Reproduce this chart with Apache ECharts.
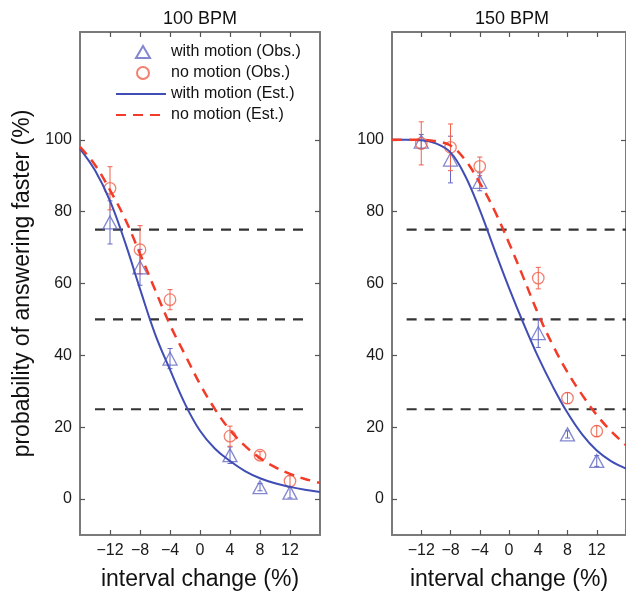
<!DOCTYPE html>
<html>
<head>
<meta charset="utf-8">
<script src="https://cdn.jsdelivr.net/npm/echarts@6/dist/echarts.min.js"></script>
<style>html,body{margin:0;padding:0;background:#fff}#c{width:626px;height:596px}</style>
</head>
<body>
<div id="c"></div>
<script>
// ---------- data ----------
const panelTitles = ['100 BPM', '150 BPM'];
const xTicks = [-12, -8, -4, 0, 4, 8, 12];
const yTicks = [0, 20, 40, 60, 80, 100];
const obsX = [-12, -8, -4, 4, 8, 12];

const bpm100MotionObs = [77, 64.5, 39.1, 12.2, 3.3, 1.8];
const bpm100MotionErr = [6, 5, 2.8, 2.3, 1, 1.5];
const bpm100NoMotionObs = [86.5, 69.4, 55.5, 17.5, 12.2, 5];
const bpm100NoMotionErr = [6, 6.7, 2.8, 2.8, 1, 1.5];

const bpm150MotionObs = [99.5, 94.5, 88.3, 46.2, 18, 10.6];
const bpm150MotionErr = [2, 6.5, 2.5, 4, 1, 1.5];
const bpm150NoMotionObs = [99, 97.9, 92.6, 61.5, 28.1, 18.9];
const bpm150NoMotionErr = [6, 6.5, 2.6, 3, 1.5, 1.5];

const curveX = [-16, -14, -12, -10, -8, -6, -4, -2, 0, 2, 4, 6, 8, 10, 12, 14, 16];
const bpm100MotionEst = [97.5, 91.5, 83, 71.5, 58.5, 46, 36, 26.5, 19, 14, 10.6, 7.8, 5.8, 4.4, 3.4, 2.6, 2];
const bpm100NoMotionEst = [98, 93, 86, 78, 68.3, 58.3, 48.5, 40.2, 32, 25, 19.2, 14.8, 11.4, 8.9, 7, 5.6, 4.5];
const bpm150MotionEst = [100, 100, 99.9, 99, 96.5, 90, 80.5, 69.5, 58.8, 48.8, 39.5, 31.3, 24, 18, 13.5, 10.5, 8.5];
const bpm150NoMotionEst = [100, 100, 100, 99.6, 98.4, 94.4, 88, 80.4, 71.3, 61.5, 51.5, 42.8, 35.3, 29, 23.4, 18.8, 15];

const refLevels = [75, 50, 25];
const refXRange = [[-14, 14], [-14, 16]];

const names = {
  mObs: 'with motion (Obs.)',
  nObs: 'no motion (Obs.)',
  mEst: 'with motion (Est.)',
  nEst: 'no motion (Est.)'
};

// ---------- styles ----------
const FONT = '"Liberation Sans", Arial, Helvetica, sans-serif';
const BLUE = '#3f4db4';
const BLUE_MK = '#6468c4';
const RED = '#f33b27';
const RED_MK = '#f0604a';
const FRAME = '#7a7a7a';

const panels = [
  { motion: bpm100MotionObs, motionErr: bpm100MotionErr, noMotion: bpm100NoMotionObs, noMotionErr: bpm100NoMotionErr, mEst: bpm100MotionEst, nEst: bpm100NoMotionEst },
  { motion: bpm150MotionObs, motionErr: bpm150MotionErr, noMotion: bpm150NoMotionObs, noMotionErr: bpm150NoMotionErr, mEst: bpm150MotionEst, nEst: bpm150NoMotionEst }
];

const grids = [
  { left: 80, top: 32, width: 240, height: 503 },
  { left: 392, top: 32, width: 240, height: 503 }
];

const xAxes = [], yAxes = [], series = [];

function errRender(color) {
  return function (params, api) {
    const x = api.value(0);
    const lo = api.coord([x, api.value(1)]);
    const hi = api.coord([x, api.value(2)]);
    const cw = 2.5;
    const st = { stroke: color, lineWidth: 1 };
    return {
      type: 'group',
      children: [
        { type: 'line', shape: { x1: lo[0], y1: lo[1], x2: hi[0], y2: hi[1] }, style: st },
        { type: 'line', shape: { x1: lo[0] - cw, y1: lo[1], x2: lo[0] + cw, y2: lo[1] }, style: st },
        { type: 'line', shape: { x1: hi[0] - cw, y1: hi[1], x2: hi[0] + cw, y2: hi[1] }, style: st }
      ]
    };
  };
}

panels.forEach((p, g) => {
  const frameLine = { show: true, onZero: false, lineStyle: { color: FRAME, width: 2 } };
  const tickIn = { show: true, inside: true, length: 5, lineStyle: { color: '#555', width: 1.2 } };
  xAxes.push({
    type: 'value', gridIndex: g, min: -16, max: 16, position: 'bottom',
    axisLine: frameLine, splitLine: { show: false },
    axisTick: Object.assign({ customValues: xTicks }, tickIn),
    axisLabel: { customValues: xTicks, color: '#1a1a1a', fontSize: 16, fontFamily: FONT, margin: 8,
      formatter: v => (v < 0 ? '\u2212' + Math.abs(v) : String(v)) },
    name: 'interval change (%)', nameLocation: 'middle', nameGap: 33,
    nameTextStyle: { fontSize: 23, fontFamily: FONT, color: '#111' }
  });
  xAxes.push({
    type: 'value', gridIndex: g, min: -16, max: 16, position: 'top',
    axisLine: frameLine, splitLine: { show: false },
    axisTick: Object.assign({ customValues: xTicks }, tickIn),
    axisLabel: { show: false }
  });
  const yLeft = {
    type: 'value', gridIndex: g, min: -10, max: 130, position: 'left',
    axisLine: frameLine, splitLine: { show: false },
    axisTick: Object.assign({ customValues: yTicks }, tickIn),
    axisLabel: { customValues: yTicks, color: '#1a1a1a', fontSize: 16, fontFamily: FONT, margin: 8 }
  };
  if (g === 0) {
    yLeft.name = 'probability of answering faster (%)';
    yLeft.nameLocation = 'middle';
    yLeft.nameGap = 46;
    yLeft.nameTextStyle = { fontSize: 23, fontFamily: FONT, color: '#111' };
  }
  yAxes.push(yLeft);
  yAxes.push({
    type: 'value', gridIndex: g, min: -10, max: 130, position: 'right',
    axisLine: frameLine, splitLine: { show: false },
    axisTick: Object.assign({ customValues: yTicks }, tickIn),
    axisLabel: { show: false }
  });

  const xi = g * 2, yi = g * 2;

  refLevels.forEach(lv => {
    series.push({
      type: 'line', name: 'ref' + g + '_' + lv, xAxisIndex: xi, yAxisIndex: yi, silent: true,
      symbol: 'none', data: [[refXRange[g][0], lv], [refXRange[g][1], lv]],
      lineStyle: { color: '#333', width: 2.2, type: [10, 8] }, z: 1
    });
  });

  series.push({
    type: 'custom', name: 'errM' + g, xAxisIndex: xi, yAxisIndex: yi, silent: true,
    renderItem: errRender(BLUE_MK), encode: { x: 0, y: [1, 2] },
    data: obsX.map((x, i) => [x, p.motion[i] - p.motionErr[i], p.motion[i] + p.motionErr[i]]), z: 2
  });
  series.push({
    type: 'custom', name: 'errN' + g, xAxisIndex: xi, yAxisIndex: yi, silent: true,
    renderItem: errRender(RED_MK), encode: { x: 0, y: [1, 2] },
    data: obsX.map((x, i) => [x, p.noMotion[i] - p.noMotionErr[i], p.noMotion[i] + p.noMotionErr[i]]), z: 2
  });

  series.push({
    type: 'scatter', name: names.mObs, xAxisIndex: xi, yAxisIndex: yi,
    symbol: 'triangle', symbolSize: [14, 13],
    itemStyle: { color: 'rgba(0,0,0,0)', borderColor: BLUE_MK, borderWidth: 1.3 },
    data: obsX.map((x, i) => [x, p.motion[i]]), z: 3
  });
  series.push({
    type: 'scatter', name: names.nObs, xAxisIndex: xi, yAxisIndex: yi,
    symbol: 'circle', symbolSize: 11.5,
    itemStyle: { color: 'rgba(0,0,0,0)', borderColor: RED_MK, borderWidth: 1.3 },
    data: obsX.map((x, i) => [x, p.noMotion[i]]), z: 3
  });

  series.push({
    type: 'line', name: names.mEst, xAxisIndex: xi, yAxisIndex: yi, smooth: 0.4,
    symbol: 'none', lineStyle: { color: BLUE, width: 2 }, itemStyle: { color: BLUE },
    data: curveX.map((x, i) => [x, p.mEst[i]]), z: 4
  });
  series.push({
    type: 'line', name: names.nEst, xAxisIndex: xi, yAxisIndex: yi, smooth: 0.4,
    symbol: 'none', lineStyle: { color: RED, width: 2.5, type: [10, 7] }, itemStyle: { color: RED },
    data: curveX.map((x, i) => [x, p.nEst[i]]), z: 4
  });
});

const chart = echarts.init(document.getElementById('c'), null, { renderer: 'canvas' });
chart.setOption({
  animation: false,
  backgroundColor: '#fff',
  grid: grids,
  xAxis: xAxes,
  yAxis: yAxes,
  legend: [
    {
      data: [names.mObs, names.nObs], orient: 'vertical', left: 130, top: 36.5,
      itemWidth: 14, itemHeight: 12, itemGap: 0, selectedMode: false,
      textStyle: { fontSize: 16, fontFamily: FONT, color: '#111', lineHeight: 21, padding: [0, 0, 0, 16] }
    },
    {
      data: [names.mEst, names.nEst], orient: 'vertical', left: 110, top: 78.5,
      itemWidth: 50, itemHeight: 12, itemGap: 0, selectedMode: false,
      itemStyle: { opacity: 0 },
      textStyle: { fontSize: 16, fontFamily: FONT, color: '#111', lineHeight: 21 }
    }
  ],
  graphic: panelTitles.map((t, i) => ({
    type: 'text', x: grids[i].left + 120, y: 19,
    style: { text: t, fontSize: 18, fontFamily: FONT, fill: '#111', textAlign: 'center', textVerticalAlign: 'middle' }
  })),
  series: series
});
</script>
</body>
</html>
